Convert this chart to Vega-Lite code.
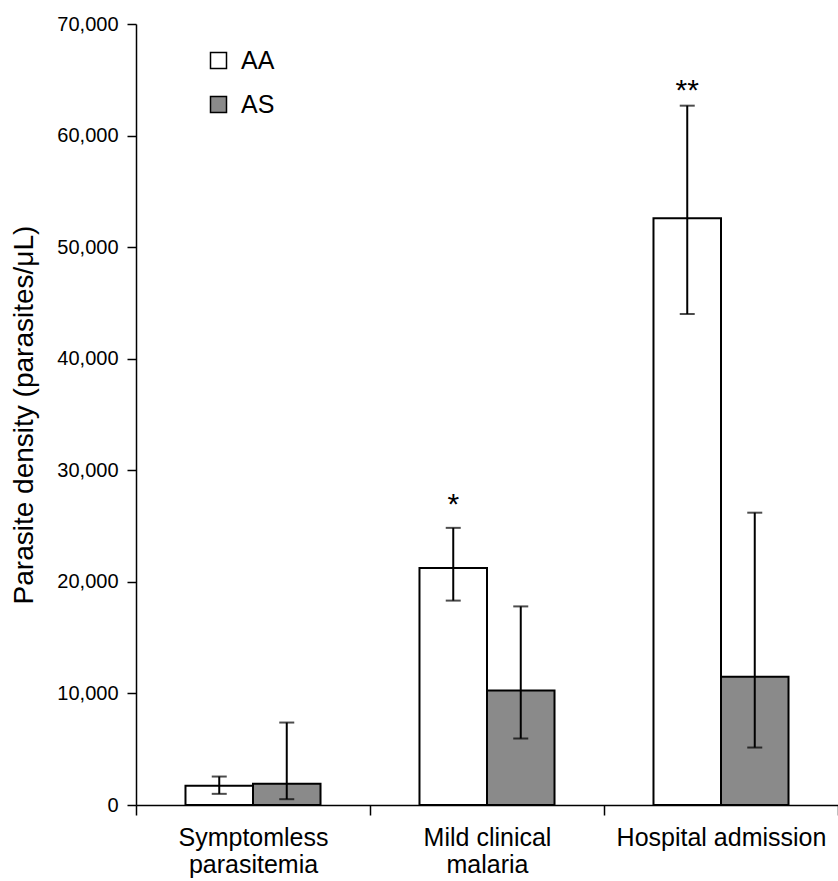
{
  "$schema": "https://vega.github.io/schema/vega-lite/v6.json",
  "autosize": {"type": "none"},
  "width": 702,
  "height": 781,
  "padding": {"left": 136, "top": 24, "right": 0, "bottom": 76},
  "background": "white",
  "config": {
    "view": {"stroke": null},
    "font": "Liberation Sans",
    "axis": {"domainColor": "black", "domainWidth": 1.5, "tickColor": "black", "tickWidth": 1.5, "labelColor": "black", "titleColor": "black", "grid": false, "labelFont": "Liberation Sans", "titleFont": "Liberation Sans", "titleFontWeight": "normal"},
    "legend": {"labelFont": "Liberation Sans"}
  },
  "data": {
    "values": [
      {"cat": "Symptomless parasitemia", "geno": "AA", "mean": 1720, "lo": 1000, "hi": 2550, "sig": ""},
      {"cat": "Symptomless parasitemia", "geno": "AS", "mean": 1900, "lo": 520, "hi": 7390, "sig": ""},
      {"cat": "Mild clinical malaria", "geno": "AA", "mean": 21250, "lo": 18320, "hi": 24840, "sig": "*"},
      {"cat": "Mild clinical malaria", "geno": "AS", "mean": 10260, "lo": 5960, "hi": 17800, "sig": ""},
      {"cat": "Hospital admission", "geno": "AA", "mean": 52600, "lo": 44010, "hi": 62680, "sig": "**"},
      {"cat": "Hospital admission", "geno": "AS", "mean": 11500, "lo": 5150, "hi": 26200, "sig": ""}
    ]
  },
  "encoding": {
    "x": {
      "field": "cat", "type": "nominal",
      "sort": ["Symptomless parasitemia", "Mild clinical malaria", "Hospital admission"],
      "scale": {"paddingInner": 0, "paddingOuter": 0},
      "axis": {
        "title": null, "labelAngle": 0, "labelFontSize": 25, "labelLineHeight": 27, "labelLimit": 0,
        "tickBand": "extent", "tickSize": 10, "labelPadding": 10,
        "labelExpr": "datum.value == 'Symptomless parasitemia' ? ['Symptomless', 'parasitemia'] : datum.value == 'Mild clinical malaria' ? ['Mild clinical', 'malaria'] : datum.value"
      }
    },
    "xOffset": {"field": "geno", "type": "nominal", "scale": {"domain": ["AA", "AS"], "paddingInner": 0, "paddingOuter": 0.733}}
  },
  "layer": [
    {
      "mark": {"type": "bar", "stroke": "black", "strokeWidth": 2},
      "encoding": {
        "y": {
          "field": "mean", "type": "quantitative",
          "scale": {"domain": [0, 70000], "nice": false},
          "axis": {"title": "Parasite density (parasites/μL)", "titleFontSize": 28, "titlePadding": 18, "labelFontSize": 20, "format": ",.0f", "values": [0, 10000, 20000, 30000, 40000, 50000, 60000, 70000], "tickSize": 9, "labelPadding": 9}
        },
        "fill": {
          "field": "geno", "type": "nominal",
          "scale": {"domain": ["AA", "AS"], "range": ["white", "#8a8a8a"]},
          "legend": {"title": null, "orient": "none", "legendX": 70, "legendY": 24, "padding": 0, "symbolType": "square", "symbolSize": 256, "symbolStrokeColor": "black", "symbolStrokeWidth": 1.5, "labelFontSize": 25, "labelColor": "black", "labelOffset": 10, "rowPadding": 18}
        }
      }
    },
    {
      "mark": {"type": "rule", "color": "black", "strokeWidth": 2},
      "encoding": {"y": {"field": "lo", "type": "quantitative"}, "y2": {"field": "hi"}}
    },
    {
      "mark": {"type": "tick", "color": "black", "size": 15, "thickness": 2},
      "encoding": {"y": {"field": "lo", "type": "quantitative"}}
    },
    {
      "mark": {"type": "tick", "color": "black", "size": 15, "thickness": 2},
      "encoding": {"y": {"field": "hi", "type": "quantitative"}}
    },
    {
      "transform": [{"filter": "datum.sig == '*'"}],
      "mark": {"type": "text", "fontSize": 30, "baseline": "alphabetic", "dy": -14, "color": "black"},
      "encoding": {"y": {"field": "hi", "type": "quantitative"}, "text": {"field": "sig"}}
    },
    {
      "transform": [{"filter": "datum.sig == '**'"}],
      "mark": {"type": "text", "fontSize": 30, "baseline": "alphabetic", "dy": -6, "color": "black"},
      "encoding": {"y": {"field": "hi", "type": "quantitative"}, "text": {"field": "sig"}}
    }
  ]
}
